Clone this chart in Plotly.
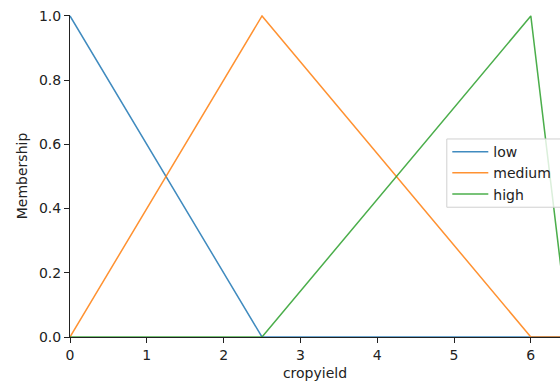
import plotly.graph_objects as go

# Universe breakpoints of "cropyield" and membership values
universe = [0, 2.5, 6, 6.5]
low = [1, 0, 0, 0]
medium = [0, 1, 0, 0]
high = [0, 0, 1, 0]
series_names = ["low", "medium", "high"]
series_colors = ["#1f77b4", "#ff7f0e", "#2ca02c"]
x_ticks = [0, 1, 2, 3, 4, 5, 6]
y_ticks = [0.0, 0.2, 0.4, 0.6, 0.8, 1.0]

fig = go.Figure()
for name, vals, col in zip(series_names, [low, medium, high], series_colors):
    fig.add_trace(go.Scatter(x=universe, y=vals, mode="lines", name=name,
                             line=dict(color=col, width=1.5), opacity=0.85,
                             cliponaxis=False))

font = dict(family="DejaVu Sans", size=14, color="#222")

# legend frame (runs past the right edge, as in the cropped original)
fig.add_shape(type="rect", xref="paper", yref="paper",
              x0=0.769, x1=1.08, y0=0.403, y1=0.615,
              fillcolor="rgba(255,255,255,0.8)",
              line=dict(color="#d0d0d0", width=1), layer="above")

fig.update_layout(
    width=560, height=386,
    margin=dict(l=70, r=0, t=15, b=49, autoexpand=False),
    paper_bgcolor="white", plot_bgcolor="white",
    font=font,
    showlegend=True,
    legend=dict(x=0.77, y=0.624, xanchor="left", yanchor="top",
                bgcolor="rgba(0,0,0,0)", borderwidth=0,
                font=font, itemwidth=36, tracegroupgap=0),
    xaxis=dict(range=[0, 6.38], tickvals=x_ticks, showgrid=False, zeroline=False,
               showline=True, linecolor="#222", linewidth=1, ticks="outside",
               ticklen=5, tickcolor="#222", tickfont=font, layer="below traces",
               title=dict(text="cropyield", font=font, standoff=6)),
    yaxis=dict(range=[0, 1.003], tickvals=y_ticks, tickformat=".1f", showgrid=False,
               zeroline=False, showline=True, linecolor="#222", linewidth=1,
               ticks="outside", ticklen=5, tickcolor="#222", tickfont=font,
               layer="below traces",
               title=dict(text="Membership", font=font, standoff=8)),
)
fig.write_html("out.html")
